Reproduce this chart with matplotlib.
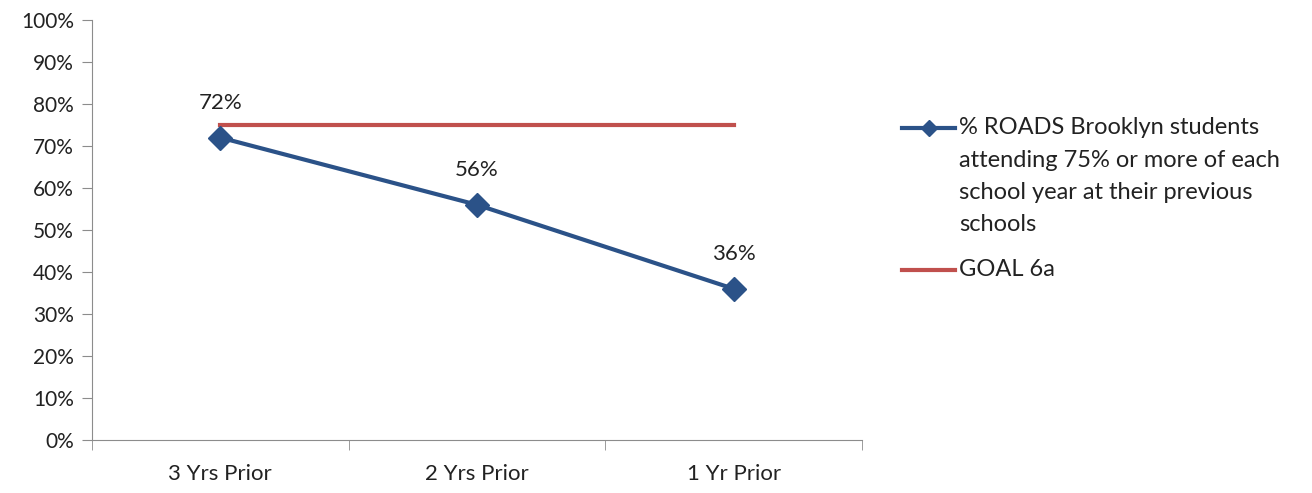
import matplotlib.pyplot as plt
from matplotlib.lines import Line2D
from matplotlib.ticker import FixedLocator, PercentFormatter

plt.rcParams['font.family'] = ['Lato', 'DejaVu Sans']

# datos
categorias = ["3 Yrs Prior", "2 Yrs Prior", "1 Yr Prior"]
pct_roads = [72, 56, 36]
goal = [75, 75, 75]
etiquetas = ["72%", "56%", "36%"]
leyenda_roads = ["% ROADS Brooklyn students", "attending 75% or more of each",
                 "school year at their previous", "schools"]
leyenda_goal = "GOAL 6a"

azul = "#2B5288"
rojo = "#C0504D"
gris = "#8C8C8C"
texto = "#222222"

W, H = 1312, 493
fig = plt.figure(figsize=(W / 100, H / 100), dpi=100)
ax = fig.add_axes([92 / W, 1 - 440 / H, 770 / W, 420 / H])

x = list(range(len(categorias)))
ax.plot(x, goal, color=rojo, lw=3, zorder=2)
ax.plot(x, pct_roads, color=azul, lw=3, marker="D", markersize=12, zorder=3)

for xi, v, t in zip(x, pct_roads, etiquetas):
    ax.annotate(t, (xi, v), xytext=(0, 25), textcoords="offset points",
                ha="center", va="center", fontsize=16, color=texto)

ax.set_xlim(-0.5, 2.5)
ax.set_ylim(0, 100)
ax.yaxis.set_major_locator(FixedLocator(range(0, 101, 10)))
ax.yaxis.set_major_formatter(PercentFormatter(decimals=0))
ax.set_xticks(x)
ax.set_xticklabels(categorias)
ax.xaxis.set_minor_locator(FixedLocator([-0.5, 0.5, 1.5, 2.5]))
ax.tick_params(axis="x", which="major", length=0, pad=17, labelsize=16, labelcolor=texto)
ax.tick_params(axis="x", which="minor", length=7, color=gris, direction="out")
ax.tick_params(axis="y", length=7, color=gris, labelsize=15, labelcolor=texto, pad=6)

for s in ["top", "right"]:
    ax.spines[s].set_visible(False)
for s in ["left", "bottom"]:
    ax.spines[s].set_color(gris)

# leyenda a mano
def fx(px):
    return px / W

def fy(py):
    return 1 - py / H

fig.add_artist(Line2D([fx(902), fx(955)], [fy(128), fy(128)], color=azul, lw=3,
                      transform=fig.transFigure))
fig.add_artist(Line2D([fx(929)], [fy(128)], color=azul, marker="D", markersize=8,
                      transform=fig.transFigure))
for i, linea in enumerate(leyenda_roads):
    fig.text(fx(959), fy(128 + 32.3 * i), linea, ha="left", va="center",
             fontsize=17, color=texto)

fig.add_artist(Line2D([fx(902), fx(955)], [fy(270), fy(270)], color=rojo, lw=3,
                      transform=fig.transFigure))
fig.text(fx(959), fy(270), leyenda_goal, ha="left", va="center", fontsize=17, color=texto)

fig.savefig("out.png", dpi=100)
